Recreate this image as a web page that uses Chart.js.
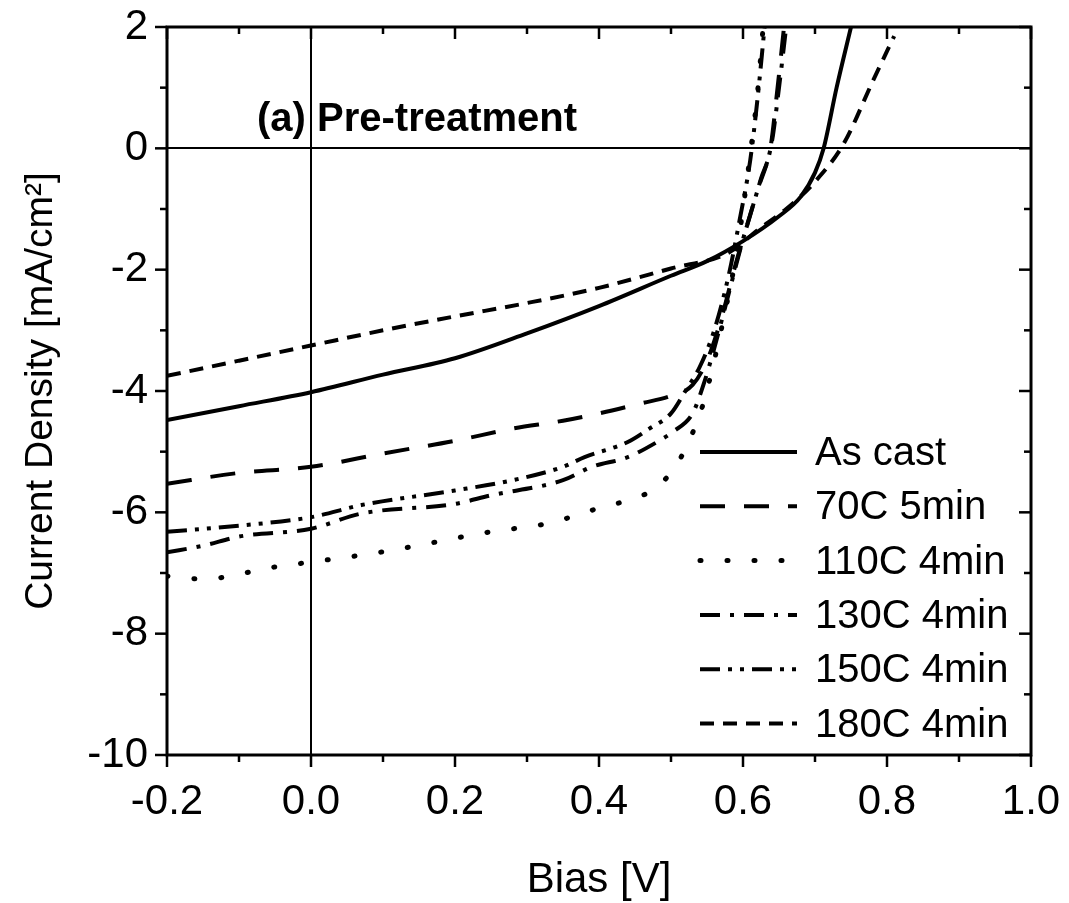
<!DOCTYPE html>
<html>
<head>
<meta charset="utf-8">
<script src="https://cdn.jsdelivr.net/npm/chart.js@4.4.0/dist/chart.umd.min.js"></script>
<style>
  html, body { margin: 0; padding: 0; background: #fff; }
  #wrap { width: 1069px; height: 903px; }
</style>
</head>
<body>
<div id="wrap"><canvas id="jv"></canvas></div>
<script>
// J-V кривые, значения
var asCastV = [-0.2, -0.1, 0, 0.1, 0.2, 0.3, 0.4, 0.5, 0.55, 0.6, 0.65, 0.68, 0.7, 0.712, 0.73, 0.75];
var asCastJ = [-4.48, -4.25, -4.02, -3.73, -3.46, -3.05, -2.6, -2.1, -1.86, -1.53, -1.12, -0.8, -0.4, 0.0, 1.0, 2.0];

var t70V = [-0.2, -0.1, 0, 0.1, 0.2, 0.28, 0.35, 0.4, 0.46, 0.5, 0.53, 0.55, 0.57, 0.59, 0.61, 0.625, 0.638, 0.648, 0.657];
var t70J = [-5.53, -5.35, -5.25, -5.03, -4.82, -4.62, -4.49, -4.37, -4.2, -4.08, -3.9, -3.5, -2.8, -1.9, -1.1, -0.5, 0.0, 1.0, 2.0];

var t110V = [-0.2, -0.15, -0.05, 0, 0.1, 0.25, 0.33, 0.4, 0.44, 0.48, 0.51, 0.53, 0.545, 0.56, 0.575, 0.59, 0.6, 0.61, 0.62, 0.628];
var t110J = [-7.05, -7.1, -6.9, -6.82, -6.65, -6.32, -6.18, -5.93, -5.8, -5.59, -5.17, -4.69, -4.2, -3.5, -2.7, -1.8, -1.0, -0.1, 0.9, 2.0];

var t130V = [-0.2, -0.15, -0.1, 0, 0.07, 0.2, 0.25, 0.35, 0.39, 0.44, 0.485, 0.503, 0.53, 0.545, 0.56, 0.58, 0.6, 0.62, 0.64, 0.65, 0.66];
var t130J = [-6.66, -6.55, -6.4, -6.27, -6.02, -5.86, -5.72, -5.47, -5.25, -5.09, -4.81, -4.67, -4.37, -3.9, -3.3, -2.4, -1.5, -0.7, 0.1, 1.0, 2.0];

var t150V = [-0.2, -0.1, 0, 0.07, 0.2, 0.28, 0.35, 0.38, 0.44, 0.47, 0.5, 0.52, 0.54, 0.56, 0.58, 0.595, 0.61, 0.62, 0.63];
var t150J = [-6.32, -6.22, -6.08, -5.88, -5.64, -5.47, -5.25, -5.09, -4.84, -4.62, -4.37, -4.0, -3.6, -3.0, -2.1, -1.2, -0.2, 0.8, 2.0];

var t180V = [-0.2, -0.1, 0, 0.1, 0.2, 0.3, 0.4, 0.5, 0.58, 0.62, 0.66, 0.7, 0.74, 0.78, 0.81];
var t180J = [-3.75, -3.5, -3.25, -3.0, -2.77, -2.55, -2.3, -1.98, -1.72, -1.35, -1.0, -0.55, 0.08, 1.1, 1.85];

var seriesLabels = ['As cast', '70C 5min', '110C 4min', '130C 4min', '150C 4min', '180C 4min'];

var FONT = "'Liberation Sans', Arial, sans-serif";

function toPoints(xs, ys) {
  return xs.map(function(v, i) { return { x: v, y: ys[i] }; });
}

function makeSet(label, xs, ys, dash, width, cap) {
  return {
    label: label,
    data: toPoints(xs, ys),
    borderColor: '#000',
    borderWidth: width,
    borderDash: dash,
    borderCapStyle: cap || 'butt',
    pointRadius: 0,
    fill: false,
    cubicInterpolationMode: 'monotone'
  };
}

var datasets = [
  makeSet(seriesLabels[0], asCastV, asCastJ, [], 4),
  makeSet(seriesLabels[1], t70V, t70J, [25, 19], 4),
  makeSet(seriesLabels[2], t110V, t110J, [1, 26], 5, 'round'),
  makeSet(seriesLabels[3], t130V, t130J, [20, 10, 4, 10], 4),
  makeSet(seriesLabels[4], t150V, t150J, [20, 8, 4, 8, 4, 8], 4),
  makeSet(seriesLabels[5], t180V, t180J, [14, 9], 4)
];

function zeroLine(ctx) {
  return ctx.tick && Math.abs(ctx.tick.value) < 1e-9 ? '#000' : 'rgba(0,0,0,0)';
}

// Рамка, засечки, легенда и подпись
var frameAndLegend = {
  id: 'frameAndLegend',
  afterDraw: function(chart) {
    var ctx = chart.ctx;
    var a = chart.chartArea;
    var xs = chart.scales.x;
    var ys = chart.scales.y;

    function seg(x1, y1, x2, y2) {
      ctx.beginPath();
      ctx.moveTo(x1, y1);
      ctx.lineTo(x2, y2);
      ctx.stroke();
    }

    ctx.save();
    ctx.strokeStyle = '#000';
    ctx.setLineDash([]);
    ctx.lineWidth = 3;
    ctx.strokeRect(a.left, a.top, a.right - a.left, a.bottom - a.top);

    ctx.lineWidth = 2.5;
    for (var i = 0; i <= 12; i++) {
      var px = xs.getPixelForValue(-0.2 + i * 0.1);
      var len = i % 2 === 0 ? 12 : 7;
      seg(px, a.bottom, px, a.bottom + len);
      seg(px, a.top, px, a.top + len);
    }
    for (var v = -10; v <= 2; v++) {
      var py = ys.getPixelForValue(v);
      var l2 = v % 2 === 0 ? 12 : 7;
      seg(a.left - l2, py, a.left, py);
      seg(a.right - l2, py, a.right, py);
    }

    // легенда
    var lx = a.left + 533;
    var ly = a.top + 425;
    var step = 54.3;
    ctx.font = '40px ' + FONT;
    ctx.fillStyle = '#000';
    ctx.textBaseline = 'middle';
    ctx.textAlign = 'left';
    chart.data.datasets.forEach(function(ds, k) {
      var y = ly + k * step;
      ctx.lineWidth = ds.borderWidth;
      ctx.lineCap = ds.borderCapStyle;
      ctx.setLineDash(ds.borderDash);
      seg(lx, y, lx + 97, y);
      ctx.setLineDash([]);
      ctx.lineCap = 'butt';
      ctx.fillText(ds.label, lx + 115, y + 2);
    });

    ctx.font = 'bold 40px ' + FONT;
    ctx.textBaseline = 'alphabetic';
    ctx.fillText('(a) Pre-treatment', a.left + 90, a.top + 104);
    ctx.restore();
  }
};

var chart = new Chart(document.getElementById('jv'), {
  type: 'line',
  data: { datasets: datasets },
  plugins: [frameAndLegend],
  options: {
    responsive: true,
    maintainAspectRatio: false,
    animation: false,
    devicePixelRatio: 1,
    layout: { padding: { top: 27, right: 38, left: 0, bottom: 0 } },
    plugins: {
      legend: { display: false },
      tooltip: { enabled: false }
    },
    scales: {
      x: {
        type: 'linear',
        min: -0.2,
        max: 1.0,
        afterFit: function(s) {
          s.height = 148;
          s.paddingLeft = 0;
          s.paddingRight = 0;
        },
        ticks: {
          stepSize: 0.2,
          color: '#000',
          padding: 22,
          font: { family: FONT, size: 42 },
          callback: function(v) { return Math.abs(v) < 1e-9 ? '0.0' : v.toFixed(1); }
        },
        grid: { drawTicks: false, color: zeroLine, lineWidth: 2 },
        border: { display: false },
        title: {
          display: true,
          text: 'Bias [V]',
          color: '#000',
          font: { family: FONT, size: 42, lineHeight: 1.0 },
          padding: { top: 0, bottom: 2 }
        }
      },
      y: {
        min: -10,
        max: 2,
        afterFit: function(s) {
          s.width = 167;
          s.paddingTop = 0;
          s.paddingBottom = 0;
        },
        ticks: {
          stepSize: 2,
          color: '#000',
          padding: 19,
          font: { family: FONT, size: 42 }
        },
        grid: { drawTicks: false, color: zeroLine, lineWidth: 2 },
        border: { display: false },
        title: {
          display: true,
          text: 'Current Density [mA/cm²]',
          color: '#000',
          font: { family: FONT, size: 39, lineHeight: 1.2 },
          padding: { top: 18, bottom: 0 }
        }
      }
    }
  }
});
</script>
</body>
</html>
